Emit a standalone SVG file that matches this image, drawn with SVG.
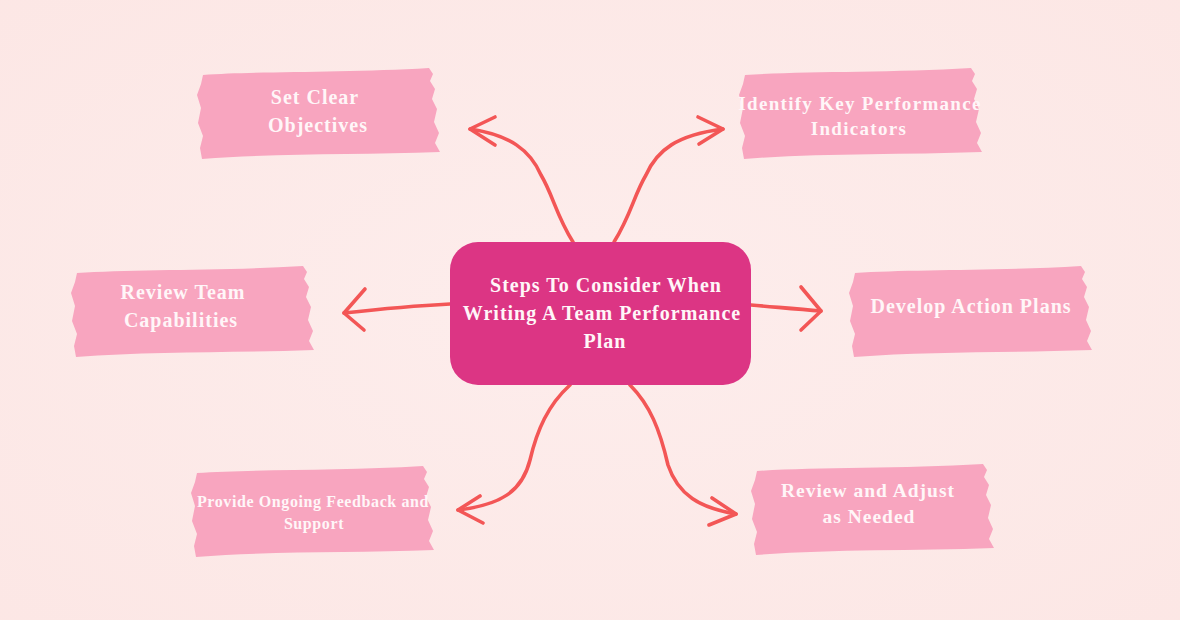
<svg xmlns="http://www.w3.org/2000/svg" width="1180" height="620" viewBox="0 0 1180 620">
  <defs>
    <style>
      .brush { fill: #f8a5bf; }
      .lbl { font-family: "Liberation Serif", "DejaVu Serif", serif; font-weight: bold; fill: #fff6f8; text-anchor: middle; letter-spacing: 1px; }
      .conn { fill: none; stroke: #f35656; stroke-width: 3.6; stroke-linecap: round; stroke-linejoin: round; }
    </style>
    <radialGradient id="bg" cx="0.5" cy="0.5" r="0.8">
      <stop offset="0" stop-color="#fdedec"/>
      <stop offset="1" stop-color="#fce6e4"/>
    </radialGradient>
    <path id="brushShape" d="M6,8 C60,4 150,6 232,1 L236,7 L233,14 L238,22 L235,32 L240,42 L237,55 L242,66 L238,76 L243,85 C160,88 80,86 5,92 L3,81 L6,69 L1,56 L4,41 L0,28 L4,17 Z"/>
  </defs>
  <rect x="0" y="0" width="1180" height="620" fill="url(#bg)"/>

  <g id="connectors">
    <path class="conn" d="M573,242 C556,215 553,195 541,175 C530,150 510,135 470,129"/>
    <path class="conn" d="M495,117 L470,129 L495,145"/>
    <path class="conn" d="M614,242 C631,215 634,195 646,175 C657,150 677,135 723,129"/>
    <path class="conn" d="M698,117 L723,129 L699,144"/>
    <path class="conn" d="M450,304 C410,306 380,309 344,313"/>
    <path class="conn" d="M365,289 L344,313 L364,330"/>
    <path class="conn" d="M751,305 C775,307 795,309 821,311"/>
    <path class="conn" d="M801,287 L821,311 L801,330"/>
    <path class="conn" d="M570,385 C548,405 537,430 530,460 C522,492 500,505 458,510"/>
    <path class="conn" d="M480,496 L458,510 L483,523"/>
    <path class="conn" d="M630,385 C650,405 660,430 668,465 C678,495 700,508 736,514"/>
    <path class="conn" d="M712,498 L736,514 L709,525"/>
  </g>

  <g id="center">
    <rect x="450" y="242" width="301" height="143" rx="28" fill="#dc3584"/>
    <text class="lbl" x="606" y="292" font-size="20">Steps To Consider When</text>
    <text class="lbl" x="602" y="320" font-size="20">Writing A Team Performance</text>
    <text class="lbl" x="605" y="348" font-size="20">Plan</text>
  </g>

  <g id="node-set-clear-objectives">
    <use href="#brushShape" class="brush" transform="translate(197,67)"/>
    <text class="lbl" x="315" y="104" font-size="20">Set Clear</text>
    <text class="lbl" x="318" y="132" font-size="20">Objectives</text>
  </g>

  <g id="node-identify-kpi">
    <use href="#brushShape" class="brush" transform="translate(739,67)"/>
    <text class="lbl" x="860" y="110" font-size="19" style="letter-spacing:1.3px">Identify Key Performance</text>
    <text class="lbl" x="859" y="135" font-size="19" style="letter-spacing:1.3px">Indicators</text>
  </g>

  <g id="node-review-team">
    <use href="#brushShape" class="brush" transform="translate(71,265)"/>
    <text class="lbl" x="183" y="299" font-size="20">Review Team</text>
    <text class="lbl" x="181" y="327" font-size="20">Capabilities</text>
  </g>

  <g id="node-develop-action">
    <use href="#brushShape" class="brush" transform="translate(849,265)"/>
    <text class="lbl" x="971" y="313" font-size="20">Develop Action Plans</text>
  </g>

  <g id="node-provide-feedback">
    <use href="#brushShape" class="brush" transform="translate(191,465)"/>
    <text class="lbl" x="313" y="507" font-size="16" style="letter-spacing:0.6px">Provide Ongoing Feedback and</text>
    <text class="lbl" x="314" y="529" font-size="16" style="letter-spacing:0.6px">Support</text>
  </g>

  <g id="node-review-adjust">
    <use href="#brushShape" class="brush" transform="translate(751,463)"/>
    <text class="lbl" x="868" y="497" font-size="19.5">Review and Adjust</text>
    <text class="lbl" x="869" y="523" font-size="19.5">as Needed</text>
  </g>
</svg>
